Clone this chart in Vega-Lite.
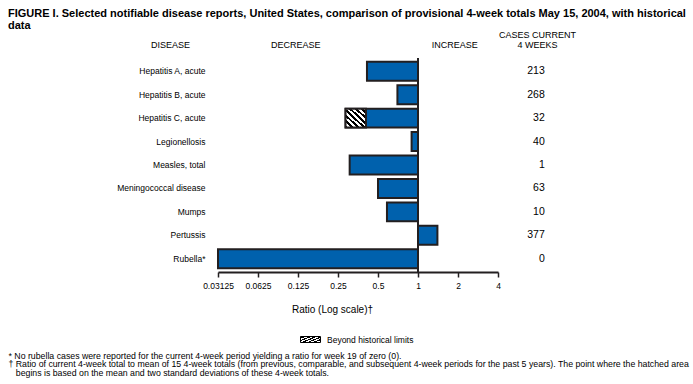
{
  "$schema": "https://vega.github.io/schema/vega-lite/v6.json",
  "width": 280,
  "height": 214,
  "autosize": "none",
  "padding": {"left": 218, "top": 58, "right": 195, "bottom": 112},
  "background": "white",
  "title": {
    "text": ["FIGURE I. Selected notifiable disease reports, United States, comparison of provisional 4-week totals May 15, 2004, with historical", "data"],
    "anchor": "start",
    "frame": "group",
    "dx": -210,
    "font": "Liberation Sans",
    "fontSize": 11,
    "fontWeight": "bold",
    "color": "#000",
    "lineHeight": 12,
    "offset": -1
  },
  "data": {
    "values": [
      {"disease": "Hepatitis A, acute", "ratio": 0.413, "cases": 213},
      {"disease": "Hepatitis B, acute", "ratio": 0.70, "cases": 268},
      {"disease": "Hepatitis C, acute", "ratio": 0.285, "limit": 0.406, "cases": 32},
      {"disease": "Legionellosis", "ratio": 0.895, "cases": 40},
      {"disease": "Measles, total", "ratio": 0.306, "cases": 1},
      {"disease": "Meningococcal disease", "ratio": 0.50, "cases": 63},
      {"disease": "Mumps", "ratio": 0.584, "cases": 10},
      {"disease": "Pertussis", "ratio": 1.40, "cases": 377},
      {"disease": "Rubella*", "ratio": 0.03125, "cases": 0}
    ]
  },
  "layer": [
    {
      "mark": {"type": "bar", "fill": "#0061ad", "stroke": "#231f20", "strokeWidth": 2},
      "encoding": {
        "y": {
          "field": "disease", "type": "nominal", "sort": null,
          "scale": {"paddingInner": 0.19, "paddingOuter": 0.16},
          "axis": {
            "orient": "left", "domain": false, "ticks": false, "tickSize": 0,
            "labelPadding": 13, "labelFont": "Liberation Sans", "labelFontSize": 8.5, "labelColor": "#000",
            "title": "DISEASE", "titleAngle": 0, "titleX": -48, "titleY": -11, "titleAlign": "center",
            "titleBaseline": "alphabetic", "titleFont": "Liberation Sans", "titleFontSize": 9,
            "titleFontWeight": "normal", "titleColor": "#000"
          }
        },
        "x": {
          "field": "ratio", "type": "quantitative",
          "scale": {"type": "log", "base": 2, "domain": [0.03125, 4], "nice": false},
          "axis": {
            "orient": "bottom", "values": [0.03125, 0.0625, 0.125, 0.25, 0.5, 1, 2, 4], "format": "~g",
            "grid": false, "domainColor": "#231f20", "domainWidth": 2, "tickColor": "#231f20", "tickWidth": 1.5,
            "tickSize": 5, "labelFont": "Liberation Sans", "labelFontSize": 8.5, "labelColor": "#000",
            "labelPadding": 4, "labelFlush": false, "labelOverlap": false,
            "title": "Ratio (Log scale)†", "titleFont": "Liberation Sans", "titleFontSize": 10,
            "titleFontWeight": "normal", "titleColor": "#000", "titleX": 114, "titleY": 40,
            "titleBaseline": "alphabetic", "titleAlign": "center"
          }
        },
        "x2": {"datum": 1}
      }
    },
    {
      "transform": [{"filter": "datum.limit > 0"}],
      "mark": {"type": "bar", "stroke": "#231f20", "strokeWidth": 2},
      "encoding": {
        "y": {"field": "disease", "type": "nominal", "sort": null, "axis": null},
        "x": {"field": "ratio", "type": "quantitative", "axis": null},
        "x2": {"field": "limit"},
        "fill": {
          "datum": "Beyond historical limits", "type": "nominal",
          "scale": {
            "domain": ["Beyond historical limits"],
            "range": [{"expr": "{gradient:'linear',x1:0,y1:1,x2:1,y2:0,stops:[{offset:0,color:'#000'},{offset:0.071,color:'#000'},{offset:0.071,color:'#fff'},{offset:0.143,color:'#fff'},{offset:0.143,color:'#000'},{offset:0.214,color:'#000'},{offset:0.214,color:'#fff'},{offset:0.286,color:'#fff'},{offset:0.286,color:'#000'},{offset:0.357,color:'#000'},{offset:0.357,color:'#fff'},{offset:0.429,color:'#fff'},{offset:0.429,color:'#000'},{offset:0.5,color:'#000'},{offset:0.5,color:'#fff'},{offset:0.571,color:'#fff'},{offset:0.571,color:'#000'},{offset:0.643,color:'#000'},{offset:0.643,color:'#fff'},{offset:0.714,color:'#fff'},{offset:0.714,color:'#000'},{offset:0.786,color:'#000'},{offset:0.786,color:'#fff'},{offset:0.857,color:'#fff'},{offset:0.857,color:'#000'},{offset:0.929,color:'#000'},{offset:0.929,color:'#fff'},{offset:1,color:'#fff'}]}"}]
          },
          "legend": {
            "orient": "none", "legendX": 82, "legendY": 271, "title": null, "padding": 0,
            "symbolType": "M-1,-0.3H1V0.3H-1Z", "symbolSize": 400, "symbolStrokeColor": "#000",
            "symbolStrokeWidth": 1, "labelFont": "Liberation Sans", "labelFontSize": 8.5,
            "labelColor": "#000", "labelOffset": 6
          }
        }
      }
    },
    {
      "mark": {"type": "rule", "color": "#231f20", "strokeWidth": 2},
      "encoding": {
        "x": {
          "datum": 1, "type": "quantitative",
          "axis": {
            "orient": "top", "values": [0.119, 1.876],
            "labelExpr": "datum.value < 1 ? 'DECREASE' : 'INCREASE'",
            "domain": false, "ticks": false, "tickSize": 0, "grid": false, "labelPadding": 11,
            "labelBaseline": "alphabetic", "labelFont": "Liberation Sans", "labelFontSize": 9,
            "labelColor": "#000", "labelFlush": false, "labelOverlap": false, "title": null
          }
        }
      }
    },
    {
      "mark": {"type": "text", "align": "right", "baseline": "middle", "font": "Liberation Sans", "fontSize": 10.5, "color": "#000"},
      "encoding": {
        "y": {
          "field": "disease", "type": "nominal", "sort": null,
          "axis": {
            "orient": "right", "labels": false, "ticks": false, "tickSize": 0, "domain": false,
            "title": ["CASES CURRENT", "4 WEEKS"], "titleAngle": 0, "titleX": 39, "titleY": -21,
            "titleAlign": "center", "titleBaseline": "alphabetic", "titleFont": "Liberation Sans",
            "titleFontSize": 9, "titleFontWeight": "normal", "titleColor": "#000", "titleLineHeight": 10
          }
        },
        "x": {
          "datum": 9, "type": "quantitative",
          "axis": {
            "orient": "bottom", "labels": false, "ticks": false, "tickSize": 0, "domain": false, "grid": false,
            "title": [
              "* No rubella cases were reported for the current 4-week period yielding a ratio for week 19 of zero (0).",
              "† Ratio of current 4-week total to mean of 15 4-week totals (from previous, comparable, and subsequent 4-week periods for the past 5 years). The point where the hatched area",
              "\u200b\u00a0\u00a0\u00a0begins is based on the mean and two standard deviations of these 4-week totals."
            ],
            "titleX": -210, "titleY": 86, "titleAlign": "left", "titleBaseline": "alphabetic",
            "titleFont": "Liberation Sans", "titleFontSize": 8.75, "titleFontWeight": "normal",
            "titleColor": "#000", "titleLineHeight": 8.7
          }
        },
        "text": {"field": "cases", "type": "quantitative"}
      }
    }
  ],
  "resolve": {"axis": {"x": "independent", "y": "independent"}},
  "config": {
    "view": {"stroke": null},
    "font": "Liberation Sans"
  }
}
